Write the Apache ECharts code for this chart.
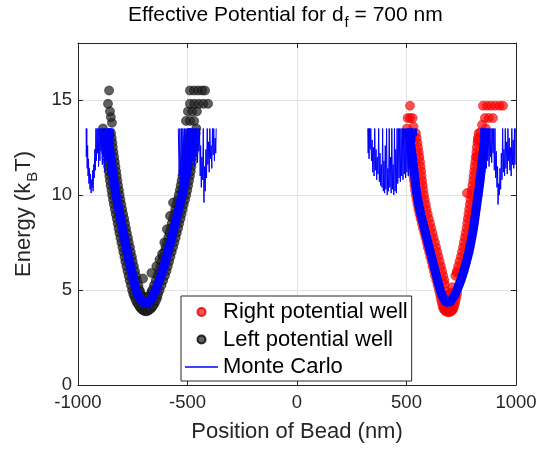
<!DOCTYPE html>
<html><head><meta charset="utf-8">
<script src="https://cdn.jsdelivr.net/npm/echarts@6/dist/echarts.min.js"></script>
<style>html,body{margin:0;padding:0;background:#fff}#c{width:544px;height:449px}</style>
</head><body><div id="c"></div>
<script>
// ---- data: [position (nm), energy (kBT)] ----
const rightWell = [
 [502,13.5],[509,13.0],[515,12.5],[521,12.0],[526,11.5],[531,11.0],[536,10.5],[542,10.0],[550,9.5],[559,9.0],[570,8.5],[581,8.0],[592,7.5],[603,7.0],[614,6.5],[625,6.0],[636,5.5],[648,5.0],
 [505,13.25],[512,12.75],[518,12.25],[524,11.75],[529,11.25],[534,10.75],[539,10.25],[546,9.75],[554,9.25],[564,8.75],[575,8.25],[586,7.75],[597,7.25],[608,6.75],[619,6.25],[630,5.75],[642,5.25],
 [656,4.6],[663,4.25],[670,4.0],[680,3.88],[692,3.85],[704,3.88],[714,4.0],[722,4.3],[728,4.65],
 [652,4.8],[659,4.42],[666,4.1],[675,3.92],[686,3.84],[698,3.84],[709,3.93],[718,4.15],[725,4.48],[731,4.82],
 [729,5.0],[746,5.5],[760,6.0],[772,6.5],[783,7.0],[792,7.5],[800,8.0],[807,8.5],[813,9.0],[819,9.5],[825,10.0],[831,10.5],[836,11.0],[841,11.5],[846,12.0],[851,12.5],[856,13.0],[862,13.5],
 [738,5.25],[753,5.75],[766,6.25],[778,6.75],[788,7.25],[796,7.75],[804,8.25],[810,8.75],[816,9.25],[822,9.75],[828,10.25],[834,10.75],[839,11.25],[844,11.75],[849,12.25],[854,12.75],[859,13.25],
 [543,13.25],[550,12.75],[556,12.25],[562,11.75],[567,11.25],[572,10.75],[577,10.25],[584,9.75],[592,9.25],[602,8.75],[613,8.25],[624,7.75],[635,7.25],[646,6.75],[657,6.25],[668,5.75],
 [547,13.0],[553,12.5],[559,12.0],[564,11.5],[569,11.0],[574,10.5],[580,10.0],[588,9.5],[597,9.0],[608,8.5],[619,8.0],[630,7.5],[641,7.0],[652,6.5],[663,6.0],[673,5.5],
 [674,5.3],[680,4.95],[690,4.75],[700,4.85],[709,5.15],
 [723,5.75],[736,6.25],[748,6.75],[758,7.25],[766,7.75],[774,8.25],[780,8.75],[786,9.25],[792,9.75],[798,10.25],[804,10.75],[809,11.25],[814,11.75],[819,12.25],[824,12.75],[829,13.25],
 [730,6.0],[742,6.5],[753,7.0],[762,7.5],[770,8.0],[777,8.5],[783,9.0],[789,9.5],[795,10.0],[801,10.5],[806,11.0],[811,11.5],[816,12.0],[821,12.5],[826,13.0],
 [516,14.7],[505,14.05],[516,14.05],[528,14.05],[532,13.6],
 [849,14.7],[868,14.7],[886,14.7],[905,14.7],[925,14.7],[941,14.7],[858,14.05],[876,14.05],[895,14.05],[845,13.7],[838,13.3],
 [776,10.1],[731,5.9],[822,12.0],[826,12.9]
];
const leftWell = [
 [-886,13.5],[-880,13.0],[-875,12.5],[-869,12.0],[-863,11.5],[-857,11.0],[-851,10.5],[-844,10.0],[-836,9.5],[-828,9.0],[-819,8.5],[-811,8.0],[-802,7.5],[-793,7.0],[-784,6.5],[-774,6.0],[-764,5.5],[-753,5.0],
 [-883,13.25],[-877,12.75],[-872,12.25],[-866,11.75],[-860,11.25],[-854,10.75],[-847,10.25],[-840,9.75],[-832,9.25],[-823,8.75],[-815,8.25],[-806,7.75],[-797,7.25],[-788,6.75],[-779,6.25],[-769,5.75],[-758,5.25],
 [-743,4.65],[-731,4.33],[-717,4.08],[-703,3.93],[-690,3.88],[-677,3.93],[-663,4.06],[-650,4.28],[-638,4.6],
 [-748,4.8],[-737,4.48],[-723,4.2],[-710,4.0],[-697,3.9],[-683,3.9],[-670,4.0],[-657,4.18],[-644,4.45],[-634,4.8],
 [-627,5.0],[-611,5.5],[-596,6.0],[-584,6.5],[-572,7.0],[-560,7.5],[-549,8.0],[-538,8.5],[-527,9.0],[-517,9.5],[-506,10.0],[-497,10.5],[-489,11.0],[-482,11.5],[-476,12.0],[-470,12.5],[-465,13.0],[-460,13.5],
 [-619,5.25],[-603,5.75],[-590,6.25],[-578,6.75],[-566,7.25],[-554,7.75],[-543,8.25],[-532,8.75],[-522,9.25],[-511,9.75],[-501,10.25],[-493,10.75],[-485,11.25],[-479,11.75],[-473,12.25],[-467,12.75],[-462,13.25],
 [-849,13.25],[-843,12.75],[-838,12.25],[-832,11.75],[-826,11.25],[-820,10.75],[-813,10.25],[-806,9.75],[-798,9.25],[-789,8.75],[-781,8.25],[-772,7.75],[-763,7.25],[-754,6.75],[-745,6.25],[-735,5.75],[-724,5.25],
 [-846,13.0],[-841,12.5],[-835,12.0],[-829,11.5],[-823,11.0],[-817,10.5],[-810,10.0],[-802,9.5],[-794,9.0],[-785,8.5],[-777,8.0],[-768,7.5],[-759,7.0],[-750,6.5],[-740,6.0],[-730,5.5],[-719,5.0],
 [-716,4.9],[-705,4.68],[-690,4.62],[-676,4.68],[-665,4.9],
 [-653,5.25],[-637,5.75],[-624,6.25],[-612,6.75],[-600,7.25],[-588,7.75],[-577,8.25],[-566,8.75],[-556,9.25],[-545,9.75],[-535,10.25],[-527,10.75],[-519,11.25],[-513,11.75],[-507,12.25],[-501,12.75],[-496,13.25],
 [-661,5.0],[-645,5.5],[-630,6.0],[-618,6.5],[-606,7.0],[-594,7.5],[-583,8.0],[-572,8.5],[-561,9.0],[-551,9.5],[-540,10.0],[-531,10.5],[-523,11.0],[-516,11.5],[-510,12.0],[-504,12.5],[-499,13.0],
 [-845,13.8],[-850,14.1],[-854,14.4],[-863,14.8],[-858,15.5],
 [-507,13.9],[-488,13.9],[-470,13.9],[-498,14.4],[-478,14.4],[-457,14.4],[-489,14.8],[-469,14.8],[-448,14.8],[-427,14.8],[-406,14.8],[-489,15.5],[-470,15.5],[-451,15.5],[-433,15.5],[-420,15.5],
 [-703,5.6],[-665,5.9],[-642,6.25],[-628,6.6],[-616,6.9],[-606,7.5],[-594,8.2],[-580,8.9],[-566,9.6]
];
// Monte Carlo: dense core of each well
const mcLeftBand = [
 [-868,13.5],[-862,13.0],[-857,12.5],[-851,12.0],[-845,11.5],[-839,11.0],[-833,10.5],[-826,10.0],[-818,9.5],[-810,9.0],[-801,8.5],[-793,8.0],[-784,7.5],[-775,7.0],[-766,6.5],[-756,6.0],[-746,5.5],[-735,5.0],[-725,4.7],[-714,4.5],[-702,4.33],[-690,4.27],[-678,4.33],[-667,4.5],[-657,4.7],[-645,5.0],[-629,5.5],[-614,6.0],[-602,6.5],[-590,7.0],[-578,7.5],[-567,8.0],[-556,8.5],[-545,9.0],[-535,9.5],[-524,10.0],[-515,10.5],[-507,11.0],[-500,11.5],[-494,12.0],[-488,12.5],[-483,13.0],[-478,13.5]
];
const mcRightBand = [
 [508,13.5],[515,13.0],[521,12.5],[527,12.0],[532,11.5],[537,11.0],[542,10.5],[548,10.0],[556,9.5],[565,9.0],[576,8.5],[587,8.0],[598,7.5],[609,7.0],[620,6.5],[631,6.0],[642,5.5],[654,5.0],[663,4.7],[672,4.5],[680,4.35],[689,4.28],[698,4.35],[707,4.5],[718,4.7],[731,5.0],[748,5.5],[762,6.0],[774,6.5],[785,7.0],[794,7.5],[802,8.0],[809,8.5],[815,9.0],[821,9.5],[827,10.0],[833,10.5],[838,11.0],[843,11.5],[848,12.0],[853,12.5],[858,13.0],[864,13.5]
];
// Monte Carlo: noisy edges (capped at 13.5)
const mcLeftWellOuter = [
 [-963,13.5],[-962,12.0],[-960,13.5],[-958,11.4],[-956,12.6],[-954,11.0],[-952,11.9],[-950,10.6],[-948,11.4],[-945,10.3],[-943,11.1],[-940,10.1],[-938,10.8],[-935,10.4],[-933,11.3],[-931,10.2],[-928,11.6],[-926,10.9],[-923,12.4],[-921,11.3],[-918,13.5],[-916,11.8],[-913,13.5],[-911,12.2],[-908,13.5],[-906,11.5],[-904,13.5],
 [-902,13.5],[-900,11.8],[-897,13.5],[-895,12.3],[-892,13.5],[-889,11.6],[-886,13.5],[-883,12.0],[-880,13.5],[-877,11.2],[-874,13.5],[-870,11.8],[-867,13.5],[-863,11.0],[-860,13.5],[-856,12.2],[-852,13.5],[-848,12.6],[-844,13.5],[-840,13.0],[-836,13.5]
];
const mcLeftWellInner = [
 [-542,13.5],[-538,11.0],[-535,13.5],[-531,10.6],[-528,13.5],[-524,10.9],[-521,13.5],[-517,11.2],[-514,13.5],[-510,11.0],[-507,13.5],[-503,11.4],[-500,13.5],[-496,11.1],[-493,13.5],[-489,11.6],[-486,13.5],[-482,11.3],[-479,13.5],[-475,11.8],[-472,13.5],[-468,11.5],[-465,13.5],[-461,12.0],[-458,13.5],[-454,11.7],[-451,13.5],[-448,12.3],[-445,13.5],[-442,11.0],[-440,12.6],[-437,10.4],[-434,12.0],[-431,10.8],[-428,13.5],[-425,9.6],[-422,11.5],[-419,10.2],[-416,12.4],[-413,10.9],[-410,13.5],[-407,11.6],[-404,12.8],[-401,11.2],[-398,13.5],[-395,11.9],[-392,12.6],[-389,11.4],[-386,13.5],[-383,12.1],[-380,13.5],[-377,11.8],[-374,13.0],[-371,12.2],[-369,13.5]
];
const mcRightWellInner = [
 [323,13.5],[325,12.2],[327,13.5],[329,11.9],[331,13.5],[334,12.4],[337,13.5],[340,11.8],[343,12.9],[346,11.2],[349,12.5],[352,11.0],[355,13.5],[358,11.3],[361,12.4],[364,10.8],[367,12.0],[370,11.1],[373,13.5],[376,10.7],[379,12.2],[382,10.5],[385,11.6],[388,10.4],[391,13.5],[394,10.2],[397,11.8],[400,10.1],[403,12.6],[406,10.3],[409,13.5],[412,10.0],[415,11.4],[418,10.2],[421,13.5],[424,10.4],[427,12.0],[430,10.1],[433,13.5],[436,10.3],[439,11.6],[442,10.0],[445,13.5],[448,10.2],[451,12.4],[454,10.1],[457,13.5],[460,10.6],[463,13.5],[466,10.9],[469,13.5],[472,10.7],[475,13.5],[478,11.0],[481,13.5],[484,10.8],[487,13.5],[490,11.1],[493,13.5],[496,10.9],[499,13.5],[502,11.2],[505,13.5],[508,11.0],[511,13.5],[514,11.4],[517,13.5],[520,11.6],[523,13.5],[526,12.0],[529,13.5],[532,12.4],[535,13.5],[538,12.8],[541,13.5],[544,13.1],[547,13.5]
];
const mcRightWellOuter = [
 [838,13.5],[841,12.0],[844,13.5],[847,11.5],[850,13.5],[853,11.2],[856,13.5],[859,11.6],[862,13.5],[865,11.4],[868,13.5],[871,11.8],[874,13.5],[877,11.5],[880,13.5],[883,12.0],[886,13.5],[889,11.7],[892,13.5],[895,12.2],[898,13.5],[901,11.3],[904,13.5],[907,10.9],[910,12.3],[913,10.4],[916,11.5],[918,9.5],[921,10.6],[924,10.0],[927,11.4],[930,10.3],[933,12.2],[936,10.8],[939,13.5],[942,11.2],[945,12.4],[948,11.0],[951,13.5],[954,11.4],[957,12.8],[960,11.1],[963,13.5],[966,11.8],[969,13.0],[972,11.3],[975,12.5],[978,11.0],[981,13.5],[984,11.6],[987,12.9],[990,11.4],[993,13.5],[995,11.6],[997,13.5]
];
const xRange = [-1000, 1000], xStep = 500;
const yRange = [0, 18], yStep = 5;
const legendNames = ['Right potential well', 'Left potential well', 'Monte Carlo'];

const FF = "'Liberation Sans', Arial, Helvetica, sans-serif";
const AX = '#262626', GRID = '#e3e3e3', BLUE = '#0000ff';
const chart = echarts.init(document.getElementById('c'), null, {renderer: 'canvas'});
const baseX = {type:'value', min:xRange[0], max:xRange[1], interval:xStep,
  axisLine:{show:true, onZero:false, lineStyle:{color:AX, width:1}},
  axisTick:{show:true, inside:true, length:5, lineStyle:{color:AX}}};
const baseY = {type:'value', min:yRange[0], max:yRange[1], interval:yStep,
  axisLine:{show:true, onZero:false, lineStyle:{color:AX, width:1}},
  axisTick:{show:true, inside:true, length:5, lineStyle:{color:AX}}};
const thin = (data) => ({type:'line', name:'Monte Carlo', data, symbol:'none', showSymbol:false,
  lineStyle:{color:BLUE, width:1}, itemStyle:{color:BLUE}, z:4, silent:true});
const option = {
  animation:false,
  backgroundColor:'#fff',
  textStyle:{fontFamily:FF},
  title:{
    text:'{a|Effective Potential for d}{s|f}{a| = 700 nm}',
    left:128, top:0, padding:0,
    textStyle:{fontWeight:'normal', rich:{
      a:{fontSize:21, color:'#000', fontFamily:FF, fontWeight:'normal'},
      s:{fontSize:15, color:'#000', fontFamily:FF, fontWeight:'normal', padding:[15,0,0,1]}
    }}
  },
  grid:{left:78, right:28, top:43, bottom:64, containLabel:false, outerBoundsMode:'none', show:false},
  legend:{
    orient:'vertical', left:181, top:296, itemWidth:33, itemHeight:8, itemGap:5.5,
    padding:[5,4,3,4], backgroundColor:'#fff', borderColor:AX, borderWidth:1, borderRadius:0,
    textStyle:{fontSize:22, lineHeight:22, color:'#000', fontFamily:FF},
    data:[{name:legendNames[0], icon:'circle'},{name:legendNames[1], icon:'circle'},
          {name:legendNames[2], icon:'path://M0,0L33,0L33,1.5L0,1.5Z', itemStyle:{color:BLUE}}]
  },
  xAxis:[
    Object.assign({}, baseX, {position:'bottom',
      name:'Position of Bead (nm)', nameLocation:'middle', nameGap:36,
      nameTextStyle:{fontSize:22, color:AX, fontFamily:FF},
      axisLabel:{show:true, fontSize:18.5, color:AX, margin:8, fontFamily:FF, formatter:(v)=>String(v)},
      splitLine:{show:true, lineStyle:{color:GRID, width:1}}}),
    Object.assign({}, baseX, {position:'top', axisLabel:{show:false}, splitLine:{show:false}})
  ],
  yAxis:[
    Object.assign({}, baseY, {position:'left',
      name:'{a|Energy (k}{s|B}{a|T)}', nameLocation:'middle', nameGap:37, nameRotate:90,
      nameTextStyle:{rich:{
        a:{fontSize:22, color:AX, fontFamily:FF},
        s:{fontSize:15, color:AX, fontFamily:FF, padding:[18,0,0,1]}
      }},
      axisLabel:{show:true, fontSize:18.5, color:AX, margin:6, fontFamily:FF, showMaxLabel:false},
      splitLine:{show:true, lineStyle:{color:GRID, width:1}}}),
    Object.assign({}, baseY, {position:'right', axisLabel:{show:false}, splitLine:{show:false}})
  ],
  series:[
    {type:'scatter', name:legendNames[0], data:rightWell, symbol:'circle', symbolSize:9, z:2,
      itemStyle:{color:'rgba(255,0,0,0.85)', borderColor:'#e00000', borderWidth:0.6}},
    {type:'scatter', name:legendNames[1], data:leftWell, symbol:'circle', symbolSize:9, z:3,
      itemStyle:{color:'rgba(35,35,35,0.9)', borderColor:'#000', borderWidth:0.6}},
    thin(mcLeftWellOuter), thin(mcLeftWellInner), thin(mcRightWellInner), thin(mcRightWellOuter),
    {type:'line', name:'Monte Carlo core L', data:mcLeftBand, symbol:'none', lineStyle:{color:BLUE, width:9}, z:4, silent:true},
    {type:'line', name:'Monte Carlo core R', data:mcRightBand, symbol:'none', lineStyle:{color:BLUE, width:9}, z:4, silent:true}
  ]
};
chart.setOption(option);
</script></body></html>
